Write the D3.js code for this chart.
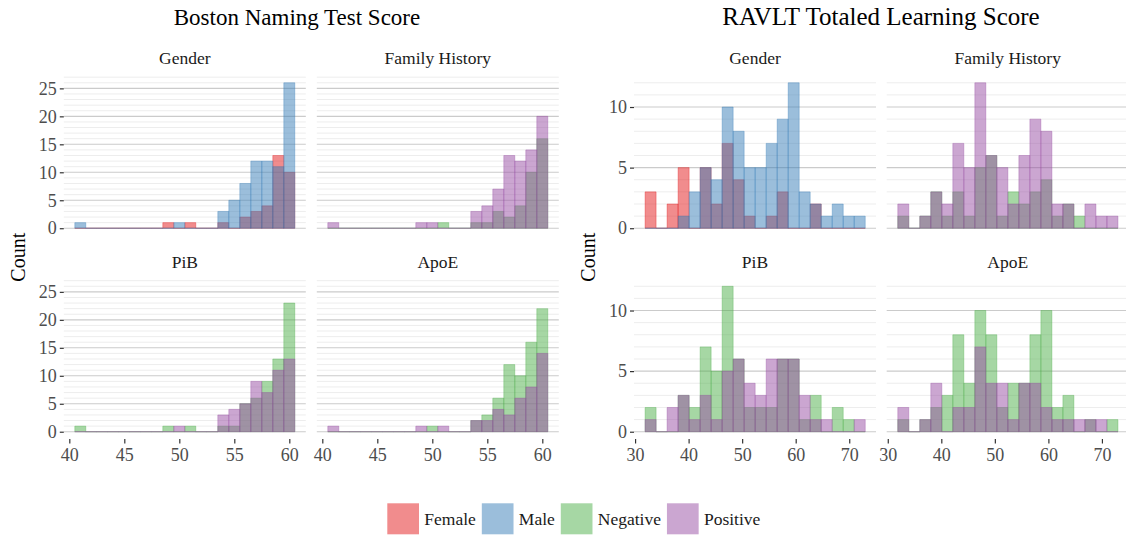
<!DOCTYPE html>
<html>
<head>
<meta charset="utf-8">
<script src="https://cdnjs.cloudflare.com/ajax/libs/d3/7.8.5/d3.min.js"></script>
<style>
body{margin:0;background:#fff;}
svg{font-family:"Liberation Serif","Times New Roman",serif;}
</style>
</head>
<body>
<svg id="chart" width="1126" height="536"></svg>
<script>
// Boston Naming Test: 20 bins of width 1, centred on 41..60
const bntBinStart = 40.5, bntBinWidth = 1;
const bntFemale  = [0,0,0,0,0,0,0,0,1,0,1,0,0,1,0,2,3,4,13,10];
const bntMale    = [1,0,0,0,0,0,0,0,0,1,0,0,0,3,5,8,12,12,11,26];
const bntFhNeg   = [0,0,0,0,0,0,0,0,0,0,1,0,0,1,1,3,2,4,10,16];
const bntFhPos   = [1,0,0,0,0,0,0,0,1,1,0,0,0,3,4,7,13,12,14,20];
const bntPibNeg  = [1,0,0,0,0,0,0,0,1,0,1,0,0,1,1,5,6,9,13,23];
const bntPibPos  = [0,0,0,0,0,0,0,0,0,1,0,0,0,3,4,5,9,7,11,13];
const bntApoeNeg = [0,0,0,0,0,0,0,0,0,1,0,0,0,2,3,6,12,10,16,22];
const bntApoePos = [1,0,0,0,0,0,0,0,1,0,1,0,0,2,2,4,3,6,8,14];
const bntTicksX = [40,45,50,55,60];
const bntTicksY = [0,5,10,15,20,25];

// RAVLT total learning: 20 bins from ~31.9 to ~73
const ravBinStart = 31.87, ravBinWidth = 2.056;
const ravFemale  = [3,0,2,5,0,5,2,7,4,1,0,1,3,0,0,2,0,0,0,0];
const ravMale    = [0,0,0,1,3,5,4,10,8,5,5,7,9,12,3,2,1,2,1,1];
const ravFhNeg   = [1,0,1,3,1,3,1,5,6,1,3,2,3,4,1,2,1,0,0,0];
const ravFhPos   = [2,0,1,3,2,7,5,12,6,5,2,6,9,8,2,2,0,2,1,1];
const ravPibNeg  = [2,0,0,3,2,7,5,12,6,2,2,2,6,6,1,3,0,2,1,0];
const ravPibPos  = [1,0,2,3,1,3,1,5,6,4,3,6,6,6,3,1,1,0,0,1];
const ravApoeNeg = [1,0,1,2,3,8,4,10,8,2,4,4,8,10,2,3,0,1,0,1];
const ravApoePos = [2,0,1,4,0,2,2,7,4,4,1,4,4,2,1,1,1,1,1,0];
const ravTicksX = [30,40,50,60,70];
const ravTicksY = [0,5,10];

const facetNames = ["Gender", "Family History", "PiB", "ApoE"];
const legendKeys = ["Female", "Male", "Negative", "Positive"];
const colors = {Female:"#E41A1C", Male:"#377EB8", Negative:"#4DAF4A", Positive:"#984EA3"};

let svg = d3.select("#chart");

let panelW = 242, panelH = 160;
let rowTops = [75.5, 279];

let plots = [
	{
		title: "Boston Naming Test Score", titleX: 297, titleSize: 23, countX: 18,
		colLefts: [63.8, 316.8],
		binStart: bntBinStart, binWidth: bntBinWidth,
		xDomain: [39.5, 61.5], yDomain: [-1.3, 27.3],
		ticksX: bntTicksX, ticksY: bntTicksY,
		series: [[bntFemale, bntMale], [bntFhNeg, bntFhPos], [bntPibNeg, bntPibPos], [bntApoeNeg, bntApoePos]]
	},
	{
		title: "RAVLT Totaled Learning Score", titleX: 881, titleSize: 25, countX: 588,
		colLefts: [634, 886.7],
		binStart: ravBinStart, binWidth: ravBinWidth,
		xDomain: [29.8, 75.0], yDomain: [-0.6, 12.6],
		ticksX: ravTicksX, ticksY: ravTicksY,
		series: [[ravFemale, ravMale], [ravFhNeg, ravFhPos], [ravPibNeg, ravPibPos], [ravApoeNeg, ravApoePos]]
	}
];

function drawPanel(plot, idx){
	let row = Math.floor(idx/2), col = idx%2;
	let left = plot.colLefts[col], top = rowTops[row];

	let x = d3.scaleLinear().domain(plot.xDomain).range([left, left + panelW]);
	let y = d3.scaleLinear().domain(plot.yDomain).range([top + panelH, top]);

	let g = svg.append("g");

	//grid: light line at every count, darker at the labelled ticks
	let minor = d3.range(0, Math.floor(plot.yDomain[1]) + 1).filter(v => plot.ticksY.indexOf(v) < 0);
	g.append("g").selectAll("line")
		.data(minor)
		.enter()
		.append("line")
		.attr("x1", left).attr("x2", left + panelW)
		.attr("y1", d => y(d)).attr("y2", d => y(d))
		.style("stroke", "#ededed")
		.style("stroke-width", 1);
	g.append("g").selectAll("line")
		.data(plot.ticksY)
		.enter()
		.append("line")
		.attr("x1", left).attr("x2", left + panelW)
		.attr("y1", d => y(d)).attr("y2", d => y(d))
		.style("stroke", "#cbcbcb")
		.style("stroke-width", 1.1);

	//two overlapping histograms, first group underneath
	let keys = idx == 0 ? ["Female", "Male"] : ["Negative", "Positive"];
	plot.series[idx].forEach(function(counts, s){
		let c = colors[keys[s]];
		g.append("g").selectAll("path")
			.data(counts)
			.enter()
			.append("path")
			.attr("d", function(d, i){
				let x0 = x(plot.binStart + i*plot.binWidth);
				let x1 = x(plot.binStart + (i+1)*plot.binWidth);
				return "M" + x0 + "," + y(0) + "V" + y(d) + "H" + x1 + "V" + y(0) + "Z";
			})
			.style("fill", c)
			.style("fill-opacity", 0.5)
			.style("stroke", c)
			.style("stroke-opacity", 0.5)
			.style("stroke-width", 0.7);
	});

	//strip label
	g.append("text")
		.attr("x", left + panelW/2)
		.attr("y", top - 11.5)
		.style("text-anchor", "middle")
		.style("font-size", "17.5px")
		.style("fill", "#1a1a1a")
		.text(facetNames[idx]);

	if(col == 0){
		let ax = g.append("g")
			.attr("transform", "translate(" + left + ",0)")
			.call(d3.axisLeft(y).tickValues(plot.ticksY).tickSize(4).tickPadding(3));
		styleAxis(ax);
	}
	if(row == 1){
		let ax = g.append("g")
			.attr("transform", "translate(0," + (top + panelH) + ")")
			.call(d3.axisBottom(x).tickValues(plot.ticksX).tickSize(4.5).tickPadding(5));
		styleAxis(ax);
	}
}

function styleAxis(ax){
	ax.select(".domain").remove();
	ax.selectAll(".tick line").style("stroke", "#333").style("stroke-width", 1.2);
	ax.selectAll(".tick text")
		.style("font-family", "Liberation Serif, serif")
		.style("font-size", "18px")
		.style("fill", "#4d4d4d");
}

plots.forEach(function(plot){
	for(let i = 0; i < 4; i++) drawPanel(plot, i);

	svg.append("text")
		.attr("x", plot.titleX)
		.attr("y", 25)
		.style("text-anchor", "middle")
		.style("font-size", plot.titleSize + "px")
		.style("fill", "#000")
		.text(plot.title);

	svg.append("text")
		.attr("transform", "translate(" + (plot.countX + 7) + "," + ((rowTops[0] + rowTops[1] + panelH)/2) + ") rotate(-90)")
		.style("text-anchor", "middle")
		.style("font-size", "20px")
		.style("fill", "#000")
		.text("Count");
});

//legend along the bottom
let legend = svg.append("g").attr("transform", "translate(387.3,503.3)");
let lx = 0;
legendKeys.forEach(function(k){
	legend.append("rect")
		.attr("x", lx).attr("y", 0)
		.attr("width", 31.7).attr("height", 31)
		.style("fill", colors[k])
		.style("fill-opacity", 0.5);
	let t = legend.append("text")
		.attr("x", lx + 37)
		.attr("y", 22)
		.style("font-size", "17.5px")
		.style("fill", "#1a1a1a")
		.text(k);
	lx += 37 + t.node().getComputedTextLength() + 6;
});
</script>
</body>
</html>
